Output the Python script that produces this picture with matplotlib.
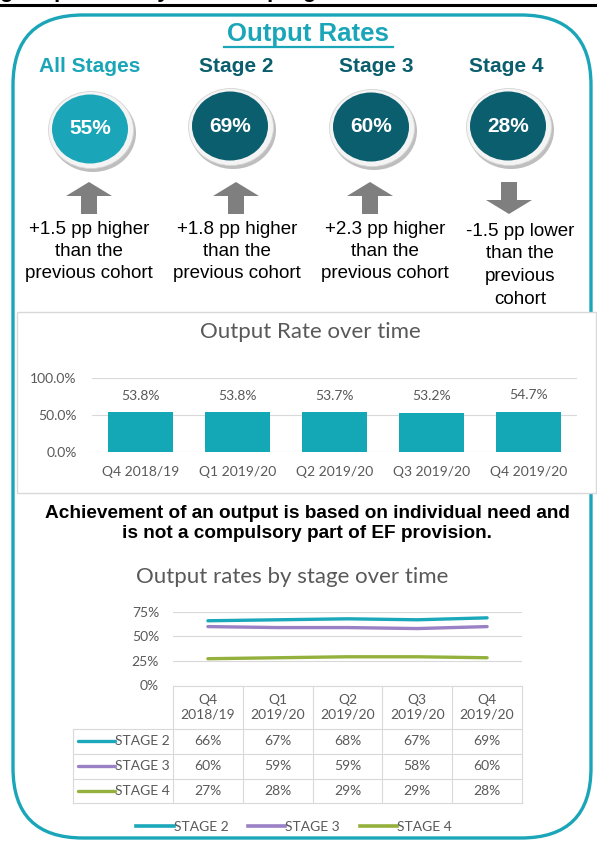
import matplotlib
matplotlib.use('Agg')
import matplotlib.pyplot as plt
from matplotlib.patches import FancyBboxPatch, Ellipse, Rectangle, Polygon
from matplotlib.lines import Line2D

# ---------------- data ----------------
stage_names = ['All Stages', 'Stage 2', 'Stage 3', 'Stage 4']
stage_rates = [55, 69, 60, 28]
stage_changes = [1.5, 1.8, 2.3, -1.5]
change_lines = [
    ['+1.5 pp higher', 'than the', 'previous cohort'],
    ['+1.8 pp higher', 'than the', 'previous cohort'],
    ['+2.3 pp higher', 'than the', 'previous cohort'],
    ['-1.5 pp lower', 'than the', 'previous', 'cohort'],
]
quarters = ['Q4 2018/19', 'Q1 2019/20', 'Q2 2019/20', 'Q3 2019/20', 'Q4 2019/20']
quarters_wrapped = ['Q4\n2018/19', 'Q1\n2019/20', 'Q2\n2019/20', 'Q3\n2019/20', 'Q4\n2019/20']
overall_rate = [53.8, 53.8, 53.7, 53.2, 54.7]
series_names = ['STAGE 2', 'STAGE 3', 'STAGE 4']
stage2 = [66, 67, 68, 67, 69]
stage3 = [60, 59, 59, 58, 60]
stage4 = [27, 28, 29, 29, 28]
series_colors = ['#1BA8BA', '#9A80C4', '#93B13C']

W, H = 597, 843
TEAL = '#1AA6B8'
DARK = '#0B5E6E'
GRAY_TXT = '#595959'
ARIAL = 'Liberation Sans'
CAL = 'Lato'

fig = plt.figure(figsize=(W / 100, H / 100), dpi=100)
bg = fig.add_axes([0, 0, 1, 1])
bg.set_xlim(0, W)
bg.set_ylim(H, 0)
bg.axis('off')


def fax(x0, y0, x1, y1):
    return fig.add_axes([x0 / W, 1 - y1 / H, (x1 - x0) / W, (y1 - y0) / H])


# top cut-off heading and rule
bg.text(0, -2.5, 'g outputs in key areas of progress', fontsize=16, fontweight='bold',
        family=ARIAL, va='baseline', ha='left', color='black')
bg.plot([0, W], [5, 5], color='black', lw=2.2)

# rounded border
border = FancyBboxPatch((13, 15), 578, 823, boxstyle='round,pad=0,rounding_size=70',
                        fc='white', ec=TEAL, lw=2.4, zorder=1)
bg.add_patch(border)

# title
bg.text(308, 34, 'Output Rates', fontsize=18.5, fontweight='bold', family=ARIAL,
        color=TEAL, ha='center', va='center', zorder=5)
bg.plot([224, 393], [47, 47], color=TEAL, lw=1.6, zorder=5)

hdr_x = [90, 236, 376, 506]
circ_x = [91, 231, 372, 509]
circ_y = [130, 127, 128, 127]
arr_x = [89, 236, 370, 509]
txt_x = [89, 237, 385, 520]
for i, name in enumerate(stage_names):
    col = TEAL if i == 0 else DARK
    bg.text(hdr_x[i], 66, name, fontsize=15, fontweight='bold', family=ARIAL,
            color=col, ha='center', va='center', zorder=5)
    cx, cy = circ_x[i], circ_y[i]
    bg.add_patch(Ellipse((cx + 2, cy + 3), 86, 78, fc='#BEBEBE', ec='none', zorder=3))
    bg.add_patch(Ellipse((cx, cy), 85, 77, fc='#F4F4F4', ec='#D6D6D6', lw=0.6, zorder=4))
    bg.add_patch(Ellipse((cx - 1, cy - 1), 76, 69, fc=col, ec='none', zorder=5))
    bg.text(cx - 1, cy - 1, f'{stage_rates[i]}%', fontsize=15, fontweight='bold', family=ARIAL,
            color='white', ha='center', va='center', zorder=6)
    # arrow
    ax_ = arr_x[i]
    top, bot = 182, 214
    if stage_changes[i] >= 0:
        pts = [(ax_ - 8, bot), (ax_ - 8, top + 14), (ax_ - 23, top + 14), (ax_, top),
               (ax_ + 23, top + 14), (ax_ + 8, top + 14), (ax_ + 8, bot)]
    else:
        pts = [(ax_ - 8, top), (ax_ - 8, bot - 14), (ax_ - 23, bot - 14), (ax_, bot),
               (ax_ + 23, bot - 14), (ax_ + 8, bot - 14), (ax_ + 8, top)]
    bg.add_patch(Polygon(pts, closed=True, fc='#7F7F7F', ec='none', zorder=5))
    for j, line in enumerate(change_lines[i]):
        yy = 229 + 22.3 * j if i < 3 else 231 + 22.7 * j
        bg.text(txt_x[i], yy, line, fontsize=13.5, family=ARIAL, color='black',
                ha='center', va='center', zorder=5)

# bar chart box
bg.add_patch(Rectangle((17, 312), 579, 181, fc='white', ec='#D9D9D9', lw=1.0, zorder=6))

# ---------------- bar chart ----------------
bx = fax(92, 378, 577, 452)
bx.set_zorder(7)
bx.patch.set_alpha(0)
xs = range(len(quarters))
bx.bar(xs, overall_rate, width=0.66, color='#14A8B6', zorder=3)
for i, v in enumerate(overall_rate):
    bx.annotate(f'{v:.1f}%', (i, v), xytext=(0, 12), textcoords='offset points',
                ha='center', va='center', fontsize=10, color=GRAY_TXT, family=CAL)
bx.set_ylim(0, 100)
bx.set_xlim(-0.5, 4.5)
bx.set_yticks([0, 50, 100])
bx.set_yticklabels(['0.0%', '50.0%', '100.0%'])
bx.set_xticks(list(xs))
bx.set_xticklabels(quarters)
bx.grid(axis='y', color='#D9D9D9', lw=0.8, zorder=0)
bx.tick_params(axis='x', length=0, labelsize=10, labelcolor=GRAY_TXT, pad=10)
bx.tick_params(axis='y', length=0, labelsize=10, labelcolor=GRAY_TXT, pad=11)
for lab in bx.get_xticklabels() + bx.get_yticklabels():
    lab.set_family(CAL)
for s in bx.spines.values():
    s.set_visible(False)
bg.text(310, 332, 'Output Rate over time', fontsize=16, family=CAL, color=GRAY_TXT,
        ha='center', va='center', zorder=8)

# bold note
bg.text(307, 513, 'Achievement of an output is based on individual need and',
        fontsize=13.7, fontweight='bold', family=ARIAL, ha='center', va='center', zorder=5)
bg.text(307, 533, 'is not a compulsory part of EF provision.',
        fontsize=13.7, fontweight='bold', family=ARIAL, ha='center', va='center', zorder=5)

# ---------------- line chart ----------------
L0, L1 = 173, 522
lx = fax(L0, 612, L1, 685)
lx.patch.set_alpha(0)
lx.set_zorder(7)
for name, vals, c in zip(series_names, [stage2, stage3, stage4], series_colors):
    lx.plot(range(len(vals)), vals, color=c, lw=2.4, label=name, solid_capstyle='round')
lx.set_xlim(-0.5, 4.5)
lx.set_ylim(0, 75)
lx.set_yticks([0, 25, 50, 75])
lx.set_yticklabels(['0%', '25%', '50%', '75%'])
lx.set_xticks([])
lx.grid(axis='y', color='#D9D9D9', lw=0.8)
lx.tick_params(length=0, labelsize=10, labelcolor=GRAY_TXT, pad=10)
for lab in lx.get_yticklabels():
    lab.set_family(CAL)
for s in lx.spines.values():
    s.set_visible(False)
bg.text(292, 577, 'Output rates by stage over time', fontsize=16, family=CAL,
        color=GRAY_TXT, ha='center', va='center', zorder=8)

# data table
cw = (L1 - L0) / len(quarters)
colx = [L0 + k * cw for k in range(len(quarters) + 1)]
hy0, hy1 = 686, 729
rows_y = [729, 753.5, 778.5, 803]
tcol = '#D9D9D9'
for x in colx:
    bg.plot([x, x], [hy0, rows_y[-1]], color=tcol, lw=0.8, zorder=5)
bg.plot([L0, L1], [hy0, hy0], color=tcol, lw=0.8, zorder=5)
bg.plot([73, 73], [rows_y[0], rows_y[-1]], color=tcol, lw=0.8, zorder=5)
for y in rows_y:
    bg.plot([73, L1], [y, y], color=tcol, lw=0.8, zorder=5)
for k, q in enumerate(quarters_wrapped):
    bg.text(L0 + (k + 0.5) * cw, (hy0 + hy1) / 2, q, fontsize=10, family=CAL,
            color=GRAY_TXT, ha='center', va='center', linespacing=1.25, zorder=6)
for r, (name, vals, c) in enumerate(zip(series_names, [stage2, stage3, stage4], series_colors)):
    yc = (rows_y[r] + rows_y[r + 1]) / 2
    bg.plot([78, 115], [yc, yc], color=c, lw=2.4, zorder=6, solid_capstyle='round')
    bg.text(115, yc, name, fontsize=10, family=CAL, color=GRAY_TXT,
            ha='left', va='center', zorder=6)
    for k, v in enumerate(vals):
        bg.text(L0 + (k + 0.5) * cw, yc, f'{v}%', fontsize=10, family=CAL,
                color=GRAY_TXT, ha='center', va='center', zorder=6)

# legend
handles = [Line2D([0], [0], color=c, lw=2.6) for c in series_colors]
leg = fig.legend(handles, series_names, loc='center', bbox_to_anchor=(294 / W, 1 - 827 / H),
                 ncol=3, frameon=False, handlelength=2.7, handletextpad=0.0,
                 columnspacing=1.4, prop={'family': CAL, 'size': 10})
for t in leg.get_texts():
    t.set_color(GRAY_TXT)

fig.savefig('out.png', dpi=100)
